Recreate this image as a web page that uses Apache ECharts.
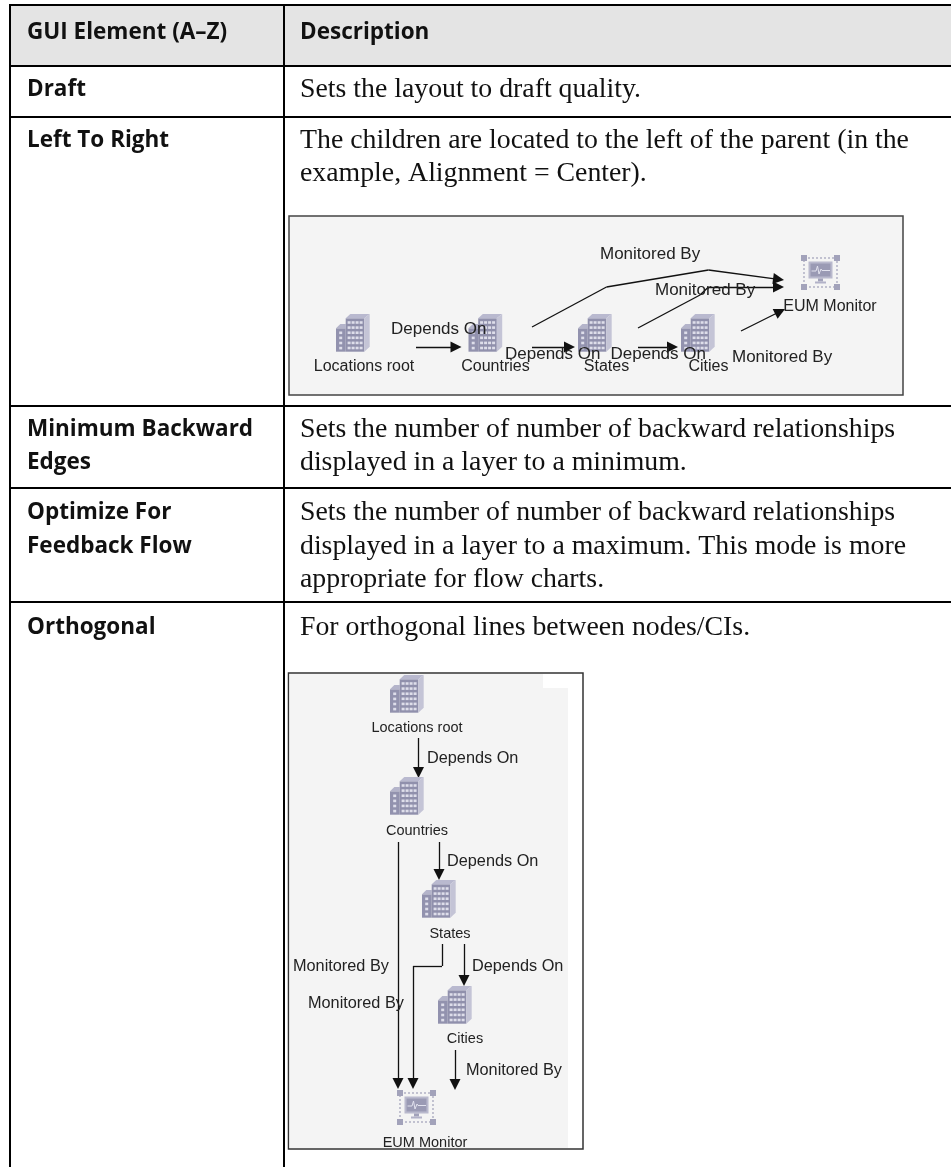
<!DOCTYPE html>
<html><head><meta charset="utf-8">
<style>html,body{margin:0;padding:0;background:#fff}#c{width:951px;height:1167px}</style>
<script src="https://cdn.jsdelivr.net/npm/echarts@6/dist/echarts.min.js"></script>
</head><body><div id="c"></div>
<script>
// ---- table content ----
const headers = ['GUI Element (A–Z)', 'Description'];
const elementLines = ['Draft', 'Left To Right', 'Minimum Backward', 'Edges', 'Optimize For', 'Feedback Flow', 'Orthogonal'];
const elementLineY = [90, 141, 430, 463, 513, 547, 628];
const descriptionLines = [
  'Sets the layout to draft quality.',
  'The children are located to the left of the parent (in the',
  'example, Alignment = Center).',
  'Sets the number of number of backward relationships',
  'displayed in a layer to a minimum.',
  'Sets the number of number of backward relationships',
  'displayed in a layer to a maximum. This mode is more',
  'appropriate for flow charts.',
  'For orthogonal lines between nodes/CIs.'
];
const descriptionLineY = [90, 141, 174, 430, 463, 513, 547, 580, 628];
const rowRules = [5, 65.5, 116.5, 406, 488, 602];
const columnRules = [10, 284];

// ---- diagram content ----
const nodeNames = ['Locations root', 'Countries', 'States', 'Cities', 'EUM Monitor'];
const nodeKinds = ['building', 'building', 'building', 'building', 'monitor'];

const wideNodeCorner = [[336, 314], [468.5, 314], [578, 314], [681, 314], [801, 255]];
const wideNodeLabelAt = [[364, 367], [495.5, 367], [606.5, 367], [708.5, 367], [830, 307]];
const wideEdgeLabels = ['Depends On', 'Depends On', 'Depends On', 'Monitored By', 'Monitored By', 'Monitored By'];
const wideEdgeLabelAt = [[391, 329], [505, 354], [610.5, 354], [600, 254], [655, 290], [732, 357]];
const wideEdges = [
  [[416, 347], [461.5, 347]],
  [[532, 347], [575, 347]],
  [[638, 347], [678, 347]],
  [[532, 327], [606.5, 287], [708.5, 270], [784, 280]],
  [[638, 328], [700, 295], [708.5, 287], [784, 287]],
  [[741, 331], [785, 309]]
];

const tallNodeCorner = [[390, 675], [390, 777], [422, 880], [438, 986], [397, 1090]];
const tallNodeLabelAt = [[417, 728], [417, 831], [450, 934], [465, 1039], [425, 1143]];
const tallEdgeLabels = ['Depends On', 'Depends On', 'Depends On', 'Monitored By', 'Monitored By', 'Monitored By'];
const tallEdgeLabelAt = [[427, 759], [447, 862], [472, 967], [293, 967], [308, 1004], [466, 1071]];
const tallEdges = [
  [[418.5, 738], [418.5, 778]],
  [[439, 842], [439, 880]],
  [[464, 944], [464, 986]],
  [[398, 842], [398, 1089]],
  [[442, 944], [442, 966], [413, 966], [413, 1089]],
  [[455, 1050], [455, 1090]]
];

// ---- panels: x0, y0, x1, y1, fill, stroke ----
const panels = [
  [10, 5, 951, 65, '#e4e4e4', null],
  [289, 216, 903, 395, '#f4f4f4', '#444444'],
  [288.5, 673, 583, 1149, '#ffffff', '#333333'],
  [289.5, 674, 568, 1148, '#f4f4f4', null],
  [543, 674, 568, 688, '#ffffff', null]
];

const ARROW = 11;
function edgeSegments(paths) {
  const out = [];
  paths.forEach(p => {
    for (let i = 0; i < p.length - 1; i++) {
      const last = i === p.length - 2;
      let a = p[i], b = p[i + 1];
      if (last) {
        const dx = b[0] - a[0], dy = b[1] - a[1], L = Math.hypot(dx, dy);
        b = [b[0] - dx / L * ARROW / 2, b[1] - dy / L * ARROW / 2];
      }
      out.push({ coords: [a, b], symbol: ['none', last ? 'triangle' : 'none'], symbolSize: ARROW });
    }
  });
  return out;
}
const rules = rowRules.map(y => ({ coords: [[9, y], [951, y]] }))
  .concat(columnRules.map(x => ({ coords: [[x, 4], [x, 1167]] })));

function textSeries(rows, font, pos) {
  return {
    type: 'scatter', coordinateSystem: 'cartesian2d', symbolSize: 0, silent: true, z: 6,
    itemStyle: { opacity: 1 },
    data: rows.map(r => ({ value: [r[0], r[1]], name: r[2] })),
    label: Object.assign({
      show: true, formatter: p => p.name, position: pos || 'right', distance: 0,
      color: '#111', align: pos === 'inside' ? 'center' : 'left', verticalAlign: 'middle'
    }, font)
  };
}

const W = [0, 1, 2, 3];
function buildingShapes() {
  const c = [];
  c.push({ type: 'rect', shape: { x: 0, y: 14.3, width: 9.7, height: 23.4 }, style: { fill: '#9292ae' } });
  c.push({ type: 'polygon', shape: { points: [[0, 14.3], [4.3, 10], [9.7, 10], [9.7, 14.3]] }, style: { fill: '#b4b4ca' } });
  c.push({ type: 'rect', shape: { x: 9.7, y: 4.3, width: 18.6, height: 33.4 }, style: { fill: '#9090ac' } });
  c.push({ type: 'polygon', shape: { points: [[9.7, 4.3], [14.3, 0], [33.7, 0], [28.3, 4.3]] }, style: { fill: '#b9b9cf' } });
  c.push({ type: 'polygon', shape: { points: [[28.3, 4.3], [33.7, 0], [33.7, 32.7], [28.3, 37.7]] }, style: { fill: '#c4c4d6' } });
  for (let j = 0; j < 6; j++) W.forEach(i => c.push({ type: 'rect', shape: { x: 11.6 + i * 4, y: 7.2 + j * 5.1, width: 3, height: 2.6 }, style: { fill: '#dedeea' } }));
  for (let j = 0; j < 4; j++) c.push({ type: 'rect', shape: { x: 3.2, y: 17.5 + j * 5.1, width: 3, height: 2.6 }, style: { fill: '#dedeea' } });
  return c;
}
function monitorShapes() {
  const c = [];
  c.push({ type: 'rect', shape: { x: 3, y: 3, width: 33, height: 29 }, style: { fill: 'none', stroke: '#8f8fac', lineWidth: 1, lineDash: [2, 2] } });
  [[0, 0], [33, 0], [0, 29], [33, 29]].forEach(p => c.push({ type: 'rect', shape: { x: p[0], y: p[1], width: 6, height: 6 }, style: { fill: '#a2a2ba' } }));
  c.push({ type: 'rect', shape: { x: 7.5, y: 6.5, width: 24, height: 17 }, style: { fill: '#b9b9cd' } });
  c.push({ type: 'rect', shape: { x: 9.5, y: 8.5, width: 20, height: 13 }, style: { fill: '#9a9ab4' } });
  c.push({ type: 'polyline', shape: { points: [[10.5, 16], [15, 16], [16.5, 11], [18, 19], [20, 14], [21, 15.5], [29, 15.5]] }, style: { fill: 'none', stroke: '#e2e2ee', lineWidth: 1 } });
  c.push({ type: 'rect', shape: { x: 17, y: 23.5, width: 5, height: 3 }, style: { fill: '#a2a2ba' } });
  c.push({ type: 'rect', shape: { x: 14, y: 26.5, width: 11, height: 2 }, style: { fill: '#b2b2c8' } });
  return c;
}

const iconData = [];
[wideNodeCorner, tallNodeCorner].forEach(list => list.forEach((p, i) => iconData.push([p[0], p[1], nodeKinds[i] === 'monitor' ? 1 : 0])));

const boldFont = { fontFamily: 'Open Sans', fontWeight: 700, fontSize: 22.5, color: '#111' };
const nodeFontWide = { fontFamily: 'Liberation Sans', fontSize: 16, color: '#222' };
const nodeFontTall = { fontFamily: 'Liberation Sans', fontSize: 14.5, color: '#222' };
const edgeFont = { fontFamily: 'Liberation Sans', fontSize: 17, color: '#222' };
const edgeFontTall = { fontFamily: 'Liberation Sans', fontSize: 16.3, color: '#222' };

const option = {
  animation: false,
  grid: { left: 0, right: 0, top: 0, bottom: 0 },
  xAxis: { type: 'value', min: 0, max: 951, show: false },
  yAxis: { type: 'value', min: 0, max: 1167, inverse: true, show: false },
  series: [
    {
      type: 'custom', coordinateSystem: 'cartesian2d', silent: true, z: 1, clip: false,
      data: panels.map((p, i) => [p[0], p[1], p[2], p[3], i]),
      renderItem(params, api) {
        const a = api.coord([api.value(0), api.value(1)]), b = api.coord([api.value(2), api.value(3)]);
        const p = panels[api.value(4)];
        return { type: 'rect', shape: { x: a[0], y: a[1], width: b[0] - a[0], height: b[1] - a[1] },
          style: { fill: p[4], stroke: p[5] || null, lineWidth: p[5] ? 1.5 : 0 } };
      }
    },
    {
      type: 'lines', coordinateSystem: 'cartesian2d', polyline: false, silent: true, z: 3,
      data: rules, symbol: ['none', 'none'],
      lineStyle: { color: '#000', width: 2, opacity: 1, curveness: 0 }
    },
    {
      type: 'lines', coordinateSystem: 'cartesian2d', silent: true, z: 4,
      data: edgeSegments(wideEdges).concat(edgeSegments(tallEdges)),
      lineStyle: { color: '#111', width: 1.3, opacity: 1, curveness: 0 }
    },
    {
      type: 'custom', coordinateSystem: 'cartesian2d', silent: true, z: 5, clip: false,
      data: iconData,
      renderItem(params, api) {
        const a = api.coord([api.value(0), api.value(1)]);
        return { type: 'group', x: a[0], y: a[1], children: api.value(2) === 1 ? monitorShapes() : buildingShapes() };
      }
    },
    textSeries([[27, 33, headers[0]]], boldFont),
    textSeries([[300, 33, headers[1]]], boldFont),
    textSeries(elementLines.map((t, i) => [27, elementLineY[i], t]), boldFont),
    textSeries(descriptionLines.map((t, i) => [300, descriptionLineY[i], t]), { fontFamily: 'Liberation Serif', fontSize: 27.8, color: '#111' }),
    textSeries(wideNodeLabelAt.map((p, i) => [p[0], p[1], nodeNames[i]]), nodeFontWide, 'inside'),
    textSeries(tallNodeLabelAt.map((p, i) => [p[0], p[1], nodeNames[i]]), nodeFontTall, 'inside'),
    textSeries(wideEdgeLabelAt.map((p, i) => [p[0], p[1], wideEdgeLabels[i]]), edgeFont),
    textSeries(tallEdgeLabelAt.map((p, i) => [p[0], p[1], tallEdgeLabels[i]]), edgeFontTall)
  ]
};
const chart = echarts.init(document.getElementById('c'), null, { renderer: 'canvas' });
chart.setOption(option);
</script></body></html>
